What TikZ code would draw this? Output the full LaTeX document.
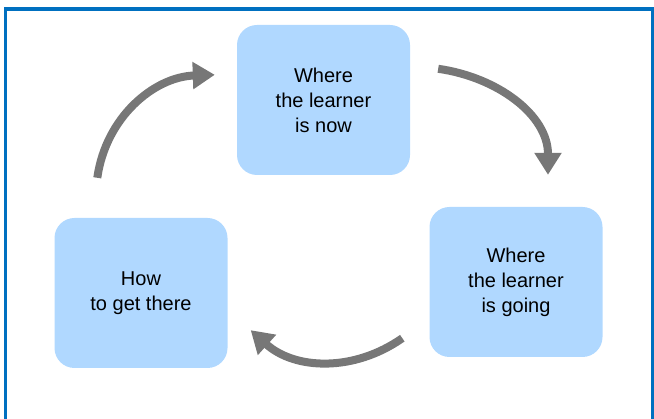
\documentclass[tikz,border=0pt]{standalone}
\usepackage{fontspec}
\setmainfont{Liberation Sans}
\usepackage{xcolor}
\usetikzlibrary{arrows.meta,positioning,calc}

\definecolor{frameblue}{RGB}{0,112,192}
\definecolor{stagefill}{RGB}{176,216,255}
\definecolor{loopgray}{RGB}{119,119,119}

\begin{document}
\begin{tikzpicture}[
  x=1pt, y=1pt,
  stage/.style={rectangle, rounded corners=20pt, fill=stagefill, minimum width=173pt, minimum height=150pt, font=\fontsize{20}{25}\selectfont, align=center},
  loop/.style={-{Triangle[width=26pt,length=22pt]}, line width=8pt, loopgray}
]

% Frame
\useasboundingbox (0,0) rectangle (654,-419);
\clip (0,0) rectangle (654,-419);
\draw[frameblue, line width=3.5pt] (5.5,-9) rectangle (652.5,-440);

% Stages
\node[stage] (now) at (323.5,-100) {Where\\the learner\\is now};
\node[stage] (going) at (516,-282) {Where\\the learner\\is going};
\node[stage] (there) at (141,-293) {How\\to get there};

% Free ends of the arrows
\coordinate (a1) at ($(now.north east)+(28,-44)$);
\coordinate (b1) at ($(going.north)+(32,32)$);
\coordinate (a2) at ($(going.south west)+(-27,19)$);
\coordinate (b2) at ($(there.south east)+(23,38)$);
\coordinate (a3) at ($(there.north west)+(43,40)$);
\coordinate (b3) at ($(now.north west)+(-22,-50)$);

% Arrows
\draw[loop] (a1) to[out=-8, in=90] (b1);
\draw[loop] (a2) to[out=-145, in=-42] (b2);
\draw[loop] (a3) to[out=82, in=182] (b3);

\end{tikzpicture}
\end{document}
